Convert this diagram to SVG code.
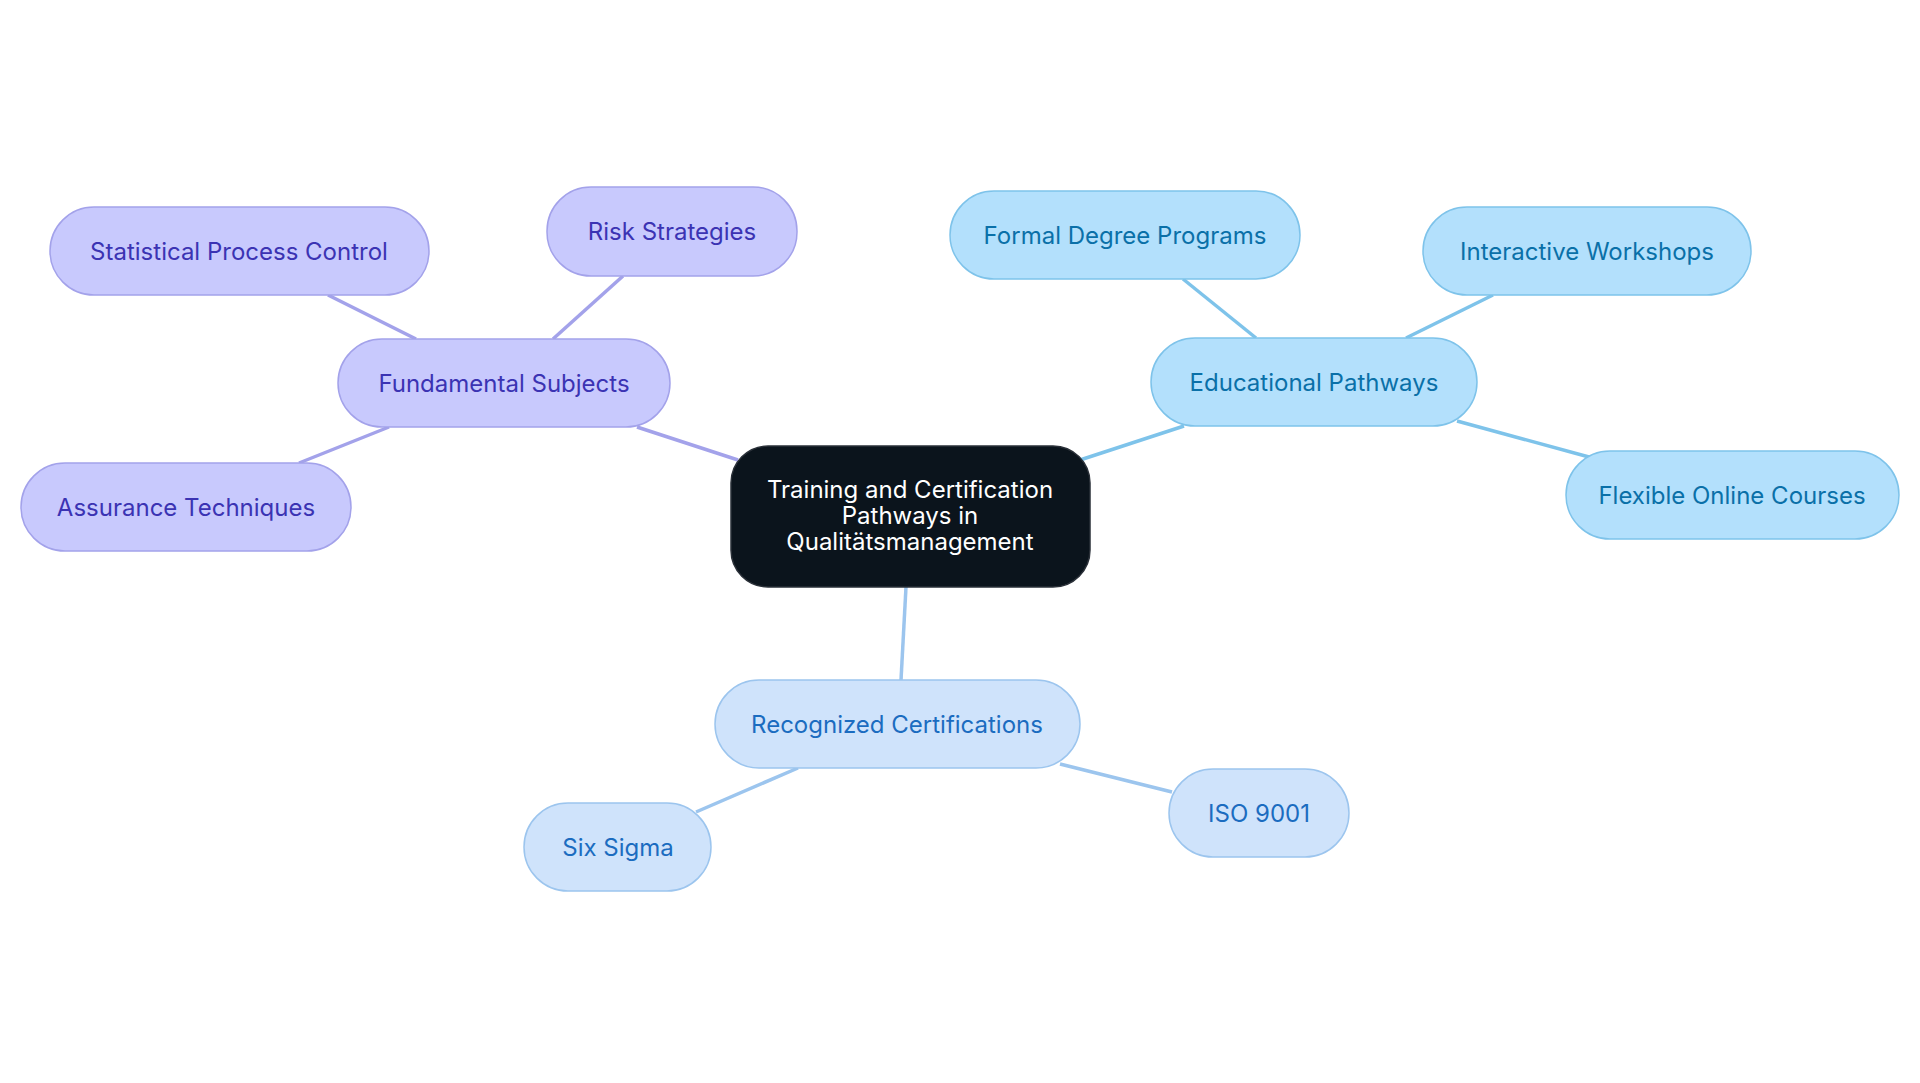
<svg xmlns="http://www.w3.org/2000/svg" width="1920" height="1083" viewBox="0 0 1920 1083">
<style>
text{font-family:Inter,"Noto Sans","Liberation Sans",sans-serif;font-size:24px;text-anchor:middle;dominant-baseline:central}
.p rect{fill:#c8c9fd;stroke:#a3a2ea;stroke-width:1.5}.p text{fill:#3b33b3}
.b rect{fill:#b3e0fc;stroke:#7ec3ea;stroke-width:1.5}.b text{fill:#0a70a8}
.r rect{fill:#cfe3fb;stroke:#9cc5ee;stroke-width:1.5}.r text{fill:#1b6cc0}
.lp{stroke:#a3a2ea;stroke-width:3.5}.lb{stroke:#7ec3ea;stroke-width:3.5}.lr{stroke:#9cc5ee;stroke-width:3.5}
</style>
<rect width="1920" height="1083" fill="#fff"/>
<g id="connectors">
<line class="lp" x1="738" y1="460" x2="637" y2="427"/>
<line class="lp" x1="416" y1="339" x2="328" y2="295"/>
<line class="lp" x1="553" y1="339" x2="623" y2="276"/>
<line class="lp" x1="389" y1="427" x2="299" y2="463"/>
<line class="lb" x1="1080" y1="460" x2="1184" y2="426"/>
<line class="lb" x1="1256" y1="338" x2="1183" y2="279"/>
<line class="lb" x1="1406" y1="338" x2="1493" y2="295"/>
<line class="lb" x1="1457" y1="421" x2="1589" y2="457"/>
<line class="lr" x1="906" y1="587" x2="901" y2="680"/>
<line class="lr" x1="798" y1="768" x2="696" y2="812"/>
<line class="lr" x1="1060" y1="764" x2="1172" y2="792"/>
</g>
<g id="center"><rect x="731" y="446" width="359" height="141" rx="37" fill="#0b141c" stroke="#2a3038" stroke-width="1.5"/>
<text x="910" y="489" fill="#fff">Training and Certification</text><text x="910" y="515" fill="#fff">Pathways in</text><text x="910" y="541" fill="#fff">Qualitätsmanagement</text></g>
<g id="fund" class="p"><rect x="338" y="339" width="332" height="88" rx="44"/><text x="504" y="383">Fundamental Subjects</text></g>
<g id="spc" class="p"><rect x="50" y="207" width="379" height="88" rx="44"/><text x="239" y="251">Statistical Process Control</text></g>
<g id="risk" class="p"><rect x="547" y="187" width="250" height="89" rx="44"/><text x="672" y="231">Risk Strategies</text></g>
<g id="assur" class="p"><rect x="21" y="463" width="330" height="88" rx="44"/><text x="186" y="507">Assurance Techniques</text></g>
<g id="edu" class="b"><rect x="1151" y="338" width="326" height="88" rx="44"/><text x="1314" y="382">Educational Pathways</text></g>
<g id="formal" class="b"><rect x="950" y="191" width="350" height="88" rx="44"/><text x="1125" y="235">Formal Degree Programs</text></g>
<g id="work" class="b"><rect x="1423" y="207" width="328" height="88" rx="44"/><text x="1587" y="251">Interactive Workshops</text></g>
<g id="flex" class="b"><rect x="1566" y="451" width="333" height="88" rx="44"/><text x="1732" y="495">Flexible Online Courses</text></g>
<g id="rec" class="r"><rect x="715" y="680" width="365" height="88" rx="44"/><text x="897" y="724">Recognized Certifications</text></g>
<g id="six" class="r"><rect x="524" y="803" width="187" height="88" rx="44"/><text x="618" y="847">Six Sigma</text></g>
<g id="iso" class="r"><rect x="1169" y="769" width="180" height="88" rx="44"/><text x="1259" y="813">ISO 9001</text></g>
</svg>
